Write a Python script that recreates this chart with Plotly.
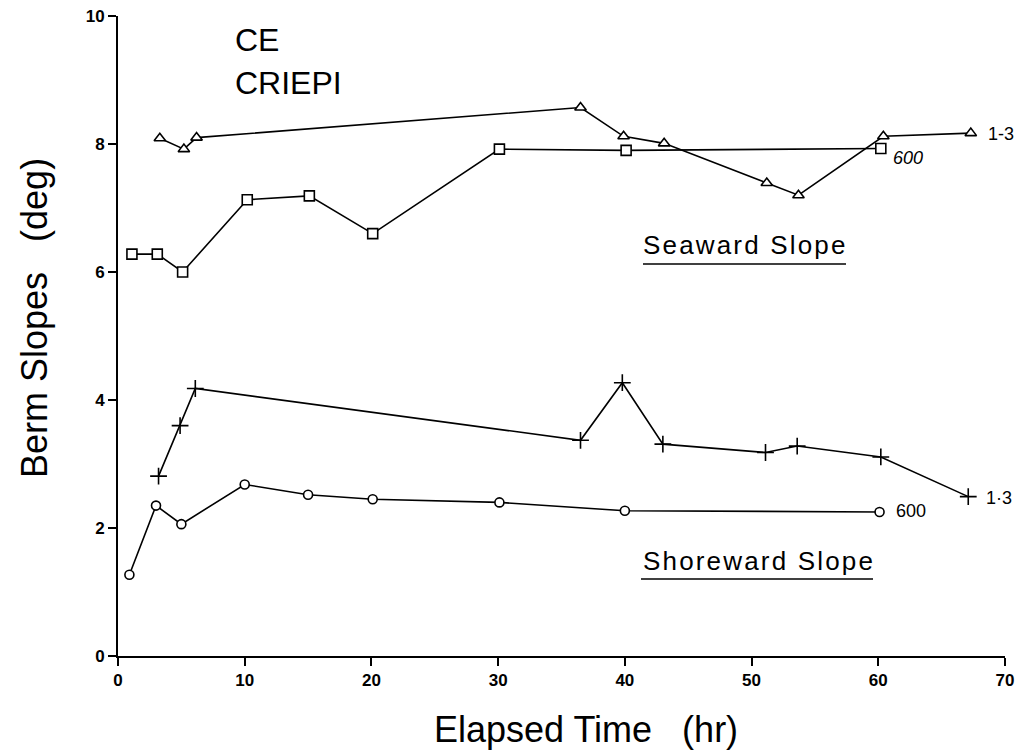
import plotly.graph_objects as go

# Seaward slope, series "1-3" (triangles)
sea13_t = [3.3, 5.2, 6.2, 36.5, 39.9, 43.1, 51.2, 53.7, 60.4, 67.3]
sea13_v = [8.09, 7.92, 8.10, 8.57, 8.12, 8.01, 7.39, 7.20, 8.12, 8.17]
# Seaward slope, series "600" (squares)
sea600_t = [1.1, 3.1, 5.1, 10.2, 15.1, 20.1, 30.1, 40.1, 60.2]
sea600_v = [6.28, 6.28, 6.00, 7.13, 7.19, 6.60, 7.92, 7.90, 7.93]
# Shoreward slope, series "1-3" (plus)
sh13_t = [3.2, 4.9, 6.1, 36.5, 39.8, 43.0, 51.1, 53.6, 60.2, 67.1]
sh13_v = [2.81, 3.60, 4.18, 3.37, 4.27, 3.31, 3.18, 3.28, 3.11, 2.49]
# Shoreward slope, series "600" (circles)
sh600_t = [0.9, 3.0, 5.0, 10.0, 15.0, 20.1, 30.1, 40.0, 60.1]
sh600_v = [1.27, 2.35, 2.06, 2.68, 2.52, 2.45, 2.40, 2.27, 2.25]

x_ticks = [0, 10, 20, 30, 40, 50, 60, 70]
y_ticks = [0, 2, 4, 6, 8, 10]

FONT = "Liberation Sans Narrow, Liberation Sans, Arial, sans-serif"
TXT = "Liberation Sans, Arial, sans-serif"

fig = go.Figure()

def add(t, v, sym, size, mcolor="white"):
    fig.add_trace(go.Scatter(
        x=t, y=v, mode="lines+markers",
        line=dict(color="black", width=1.6),
        marker=dict(symbol=sym, size=size, color=mcolor,
                    line=dict(color="black", width=1.6)),
        showlegend=False))

add(sea13_t, sea13_v, "triangle-up", 10)
add(sea600_t, sea600_v, "square", 10)
add(sh13_t, sh13_v, "cross-thin-open", 12, mcolor="black")
add(sh600_t, sh600_v, "circle", 9)

L, R, T, B = 118, 1005, 16, 656
W, H = R - L, B - T

def px2p(px, py):
    return (px - L) / W, (B - py) / H

ann = []
def text(s, px, py, size, family=TXT, xanchor="left", italic=False, angle=0):
    x, y = px2p(px, py)
    ann.append(dict(text=s, x=x, y=y, xref="paper", yref="paper",
                    xanchor=xanchor, yanchor="middle", showarrow=False,
                    textangle=angle,
                    font=dict(size=size, family=family, color="black",
                              style="italic" if italic else "normal")))

HS = "\u200a"
def spaced(s):
    return HS.join(list(s))

text("CE", 233, 40, 32)
text("CRIEPI", 233, 83, 32)
text("1-3", 986, 134, 18)
text("600", 891, 158, 18, italic=True)
text("1·3", 984, 498, 18)
text("600", 894, 511, 18)
text(spaced("Seaward Slope"), 744, 245, 26, xanchor="center")
text(spaced("Shoreward Slope"), 758, 561, 26, xanchor="center")
text("Elapsed Time   (hr)", 586, 729, 36, xanchor="center")
text("Berm Slopes   (deg)", 34, 318, 36, xanchor="center", angle=-90)

shapes = []
for (x0, x1, yy) in [(643, 846, 264), (641, 873, 579)]:
    a, b = px2p(x0, yy)
    c, _ = px2p(x1, yy)
    shapes.append(dict(type="line", xref="paper", yref="paper",
                       x0=a, x1=c, y0=b, y1=b,
                       line=dict(color="black", width=1.5)))

fig.update_layout(
    width=1021, height=752,
    margin=dict(l=L, r=1021 - R, t=T, b=752 - B),
    paper_bgcolor="white", plot_bgcolor="white",
    annotations=ann, shapes=shapes,
    xaxis=dict(range=[0, 70], tickvals=x_ticks, showgrid=False, zeroline=False,
               automargin=False,
               showline=True, linecolor="black", linewidth=2,
               ticks="outside", ticklen=8, tickwidth=1.5, tickcolor="black",
               tickfont=dict(size=17, family=FONT, color="black", weight="bold")),
    yaxis=dict(range=[0, 10], tickvals=y_ticks, showgrid=False, zeroline=False,
               automargin=False,
               showline=True, linecolor="black", linewidth=2,
               ticks="outside", ticklen=8, tickwidth=1.5, tickcolor="black",
               tickfont=dict(size=17, family=FONT, color="black", weight="bold")),
)

fig.write_html("out.html", config={"displayModeBar": False},
               post_script="document.body.style.margin='0px';document.body.style.overflow='hidden';")
